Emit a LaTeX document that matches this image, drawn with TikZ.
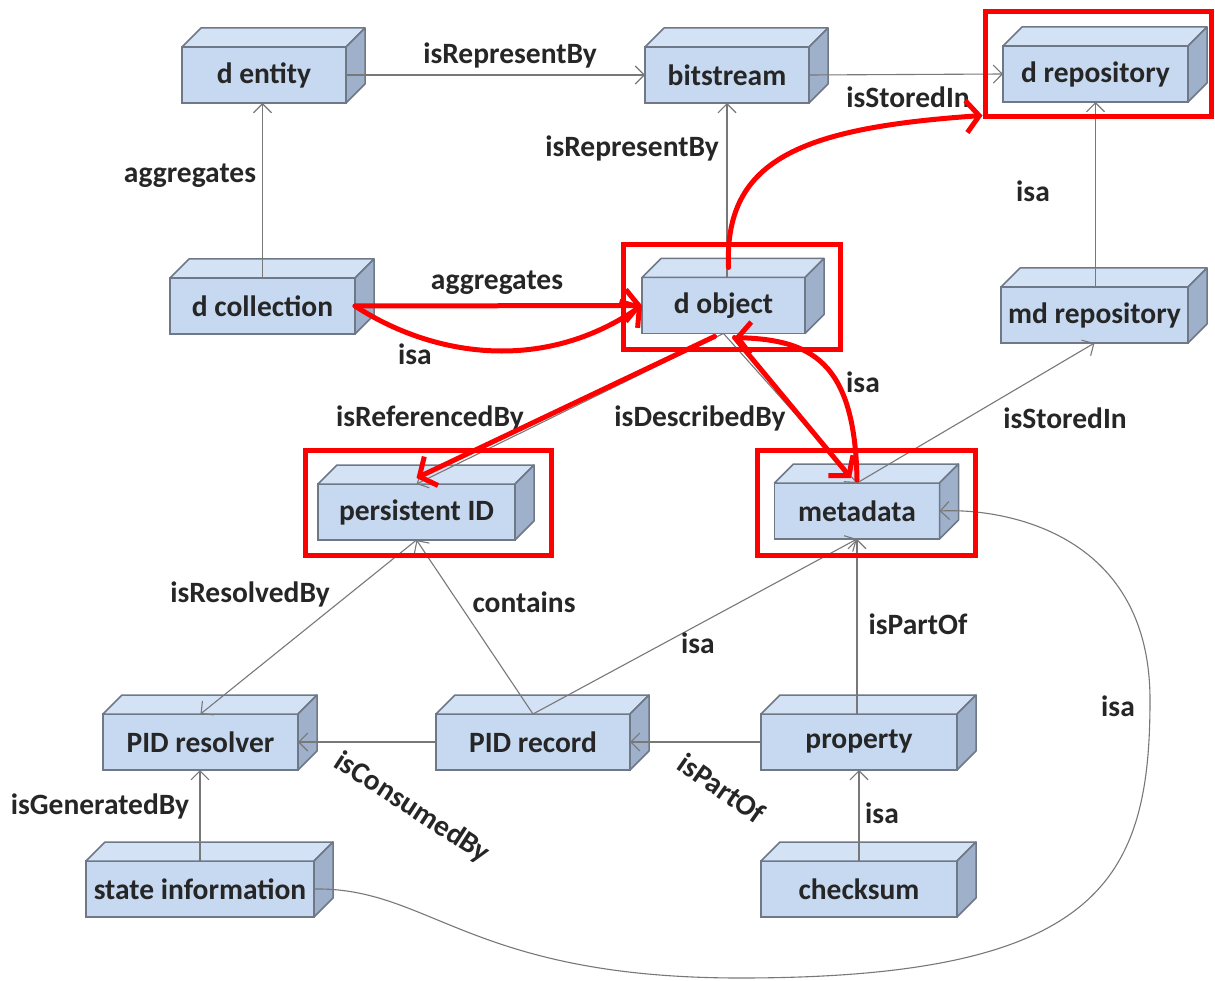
\documentclass[tikz,border=0pt]{standalone}
\usepackage{fontspec}
\setmainfont{Carlito}
\usetikzlibrary{positioning}
\usetikzlibrary{arrows.meta}
\usetikzlibrary{calc}

\definecolor{boxfront}{RGB}{198,217,241}
\definecolor{boxtop}{RGB}{212,226,245}
\definecolor{boxside}{RGB}{158,176,202}
\definecolor{boxline}{RGB}{110,120,135}
\definecolor{relgray}{RGB}{120,120,120}
\definecolor{hlred}{RGB}{255,0,0}

\tikzset{
    cube/.style={rectangle, draw=boxline, fill=boxfront, line width=1.5pt,
        inner sep=0pt, outer sep=0pt, minimum height=56pt,
        font=\fontsize{29.5pt}{32pt}\selectfont\bfseries, text=black!85},
    rel/.style={draw=relgray, line width=1.1pt,
        -{Straight Barb[length=9pt,width=18pt]}},
    lbl/.style={font=\fontsize{29.5pt}{32pt}\selectfont\bfseries,
        text=black!85, inner sep=0pt},
    hl/.style={rectangle, draw=hlred, line width=5pt, inner sep=0pt,
        minimum height=105pt},
    hlarrow/.style={draw=hlred, line width=5pt, line cap=round,
        -{Straight Barb[length=13pt,width=32pt]}}
}

\begin{document}
\begin{tikzpicture}[x=1pt, y=-1pt]
    \path[fill=white, use as bounding box] (0,0) rectangle (1215,981);

    % boxes
    \node[cube, minimum width=164pt] (dentity) at (264,75) {d entity};
    \node[cube, minimum width=164pt] (bitstream) at (727,75) {bitstream};
    \node[cube, minimum width=185pt] (drepo) at (1095.5,74) {d repository};
    \node[cube, minimum width=185pt] (dcoll) at (262.5,306) {d collection};
    \node[cube, minimum width=163pt] (dobj) at (723.5,305.5) {d object};
    \node[cube, minimum width=187pt] (mdrepo) at (1094.5,315) {md repository};
    \node[cube, minimum width=197pt] (pid) at (416.5,512) {persistent ID};
    \node[cube, minimum width=165pt] (metadata) at (857,511) {metadata};
    \node[cube, minimum width=195pt] (resolver) at (200.5,742) {PID resolver};
    \node[cube, minimum width=194pt] (pidrec) at (533,742) {PID record};
    \node[cube, minimum width=196pt] (property) at (859,742) {property};
    \node[cube, minimum width=228pt] (stateinfo) at (200,889) {state information};
    \node[cube, minimum width=196pt] (checksum) at (859,889) {checksum};

    \foreach \n in {dentity,bitstream,drepo,dcoll,dobj,mdrepo,pid,metadata,resolver,pidrec,property,stateinfo,checksum}{
        \filldraw[fill=boxtop, draw=boxline, line width=1.5pt, line join=round]
            (\n.north west) -- ++(19,-19) -- ($(\n.north east)+(19,-19)$) -- (\n.north east) -- cycle;
        \filldraw[fill=boxside, draw=boxline, line width=1.5pt, line join=round]
            (\n.north east) -- ++(19,-19) -- ($(\n.south east)+(19,-19)$) -- (\n.south east) -- cycle;
    }

    % relations
    \draw[rel] (dentity.east) -- (bitstream.west);
    \draw[rel] (bitstream.east) -- (drepo.west);
    \draw[rel] (dcoll.north) -- (dcoll.north |- dentity.south);
    \draw[rel] (bitstream.south |- dobj.north) -- (bitstream.south);
    \draw[rel] (drepo.south |- mdrepo.north) -- (drepo.south);
    \draw[rel] (dcoll.east) -- (dobj.west);
    \draw[rel] (dobj.south) -- (pid.north);
    \draw[rel] (dobj.south) -- (metadata.north);
    \draw[rel] (metadata.north) -- (mdrepo.south);
    \draw[rel] (pid.south) -- (resolver.north);
    \draw[rel] (pidrec.north) -- (pid.south);
    \draw[rel] (pidrec.north) -- (metadata.south);
    \draw[rel] (pidrec.west) -- (resolver.east);
    \draw[rel] (property.west) -- (pidrec.east);
    \draw[rel] (metadata.south |- property.north) -- (metadata.south);
    \draw[rel] (checksum.north) -- (checksum.north |- property.south);
    \draw[rel] (stateinfo.north) -- (stateinfo.north |- resolver.south);
    \draw[rel] (stateinfo.east) .. controls (430,887) and (470,978) .. (740,978)
        .. controls (1100,978) and (1150,880) .. (1150,700)
        .. controls (1150,530) and (1000,508) .. (metadata.east);

    % labels
    \node[lbl] (lrepr1) at (510,55) {isRepresentBy};
    \node[lbl] (lstore1) at (908,97) {isStoredIn};
    \node[lbl] (laggr1) at (190,176) {aggregates};
    \node[lbl] (lrepr2) at (632,148) {isRepresentBy};
    \node[lbl] (lisa1) at (1033,191) {isa};
    \node[lbl] (laggr2) at (497,283) {aggregates};
    \node[lbl] (lisa2) at (415,354) {isa};
    \node[lbl] (lref) at (430,418) {isReferencedBy};
    \node[lbl] (ldesc) at (700,418) {isDescribedBy};
    \node[lbl] (lisa3) at (863,382) {isa};
    \node[lbl] (lstore2) at (1065,418) {isStoredIn};
    \node[lbl] (lresolv) at (250,594) {isResolvedBy};
    \node[lbl] (lcont) at (524,602) {contains};
    \node[lbl] (lisa4) at (698,643) {isa};
    \node[lbl] (lpart1) at (918,624) {isPartOf};
    \node[lbl] (lisa5) at (1118,706) {isa};
    \node[lbl] (lgen) at (100,806) {isGeneratedBy};
    \node[lbl, rotate=-33] (lcons) at (412,808) {isConsumedBy};
    \node[lbl, rotate=-35] (lpart2) at (722,788) {isPartOf};
    \node[lbl] (lisa6) at (882,813) {isa};

    % highlights
    \node[hl, minimum width=226pt] (hlrepo) at (1098,64.5) {};
    \node[hl, minimum width=217pt] (hlobj) at (731.5,297.5) {};
    \node[hl, minimum width=246pt] (hlpid) at (428,502.5) {};
    \node[hl, minimum width=218pt] (hlmeta) at (866,502.5) {};

    \coordinate (objtop) at ($(dobj.north)+(5,-10)$);
    \coordinate (objbotl) at ($(dobj.south)+(-9,3)$);
    \coordinate (objbotr) at ($(dobj.south)+(11,4)$);

    \draw[hlarrow] (dcoll.east) -- (dobj.west);
    \draw[hlarrow] (dcoll.east) .. controls (430,355) and (540,375) .. (dobj.west);
    \draw[hlarrow] (objtop) .. controls (724,160) and (800,128) .. ([yshift=4pt]hlrepo.south west);
    \draw[hlarrow] (objbotl) -- ([yshift=6pt]pid.north);
    \draw[hlarrow] (objbotr) -- ([xshift=-6pt,yshift=5pt]metadata.north);
    \draw[hlarrow] ([yshift=3pt]metadata.north) .. controls (855,360) and (810,340) .. (objbotr);
\end{tikzpicture}
\end{document}
